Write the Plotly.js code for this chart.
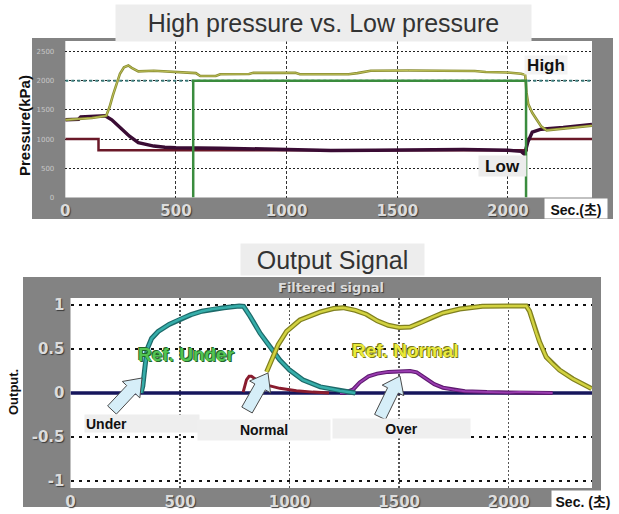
<!DOCTYPE html>
<html>
<head>
<meta charset="utf-8">
<script src="https://cdn.plot.ly/plotly-3.0.1.min.js"></script>
<style>html,body{margin:0;padding:0;background:#fff;}#chart{width:619px;height:514px;}</style>
</head>
<body>
<div id="chart"></div>
<script>
// ---------- DATA ----------
// Top chart: High pressure vs. Low pressure (x = seconds, y = kPa)
const tHigh = [0,60,120,185,200,215,232,247,265,285,300,330,400,470,540,590,610,680,700,830,850,1040,1060,1280,1320,1380,1550,1700,1850,1900,2000,2060,2078,2084,2092,2110,2130,2150,2175,2200,2300,2380];
const pHigh = [1330,1340,1360,1400,1550,1750,1950,2120,2230,2260,2220,2160,2170,2160,2150,2130,2080,2080,2110,2115,2135,2135,2110,2110,2130,2170,2175,2170,2165,2150,2140,2120,2100,1800,1600,1450,1330,1220,1150,1160,1190,1230];
const tLow = [0,60,70,180,210,250,290,330,370,400,450,500,700,900,1100,1200,1400,1600,1800,2000,2060,2075,2090,2110,2150,2250,2380];
const pLow = [1330,1340,1380,1400,1330,1180,1050,940,900,880,860,850,845,830,815,805,810,820,820,810,790,740,950,1120,1170,1200,1250];
const tLowSet = [0,150,150,2085,2085,2380];
const pLowSet = [1000,1000,810,810,1000,1000];
const tHighRef = [578,578,2082,2082];
const pHighRef = [0,2000,2000,0];
const tHighBase = [0,2380];
const pHighBase = [2000,2000];
const xTicksTop = [0,500,1000,1500,2000];
const yTicksTop = [0,500,1000,1500,2000,2500];

// Bottom chart: Output Signal (Filtered signal)
const tZero = [0,2380];
const yZero = [0,0];
const tUnder = [322,330,340,350,370,400,450,500,550,600,650,700,770,790,820,865,910,955,1000,1060,1140,1230,1300];
const yUnder = [0,0.08,0.3,0.5,0.62,0.7,0.78,0.84,0.89,0.93,0.955,0.97,0.99,0.985,0.87,0.68,0.53,0.375,0.26,0.15,0.07,0.025,0];
const tNormal = [895,910,925,948,986,1047,1138,1200,1244,1300,1350,1400,1450,1500,1550,1600,1650,1700,1776,1880,2000,2080,2095,2110,2126,2141,2171,2200,2232,2293,2340,2378];
const yNormal = [0.24,0.33,0.41,0.55,0.7,0.83,0.92,0.96,0.97,0.94,0.895,0.82,0.77,0.745,0.75,0.8,0.86,0.91,0.955,0.985,0.99,0.99,0.93,0.8,0.68,0.58,0.41,0.33,0.26,0.16,0.1,0.05];
const tOver = [1230,1250,1290,1320,1360,1400,1450,1500,1550,1580,1620,1660,1700,1750,1800,1900,2000,2050,2100,2150,2200];
const yOver = [0,0,0.04,0.12,0.19,0.22,0.24,0.245,0.25,0.235,0.17,0.1,0.06,0.035,0.02,0.01,0.005,0.012,0.01,0.005,0];
const tTrans = [788,803,815,826,860,897,955,1031,1107,1180];
const yTrans = [0.01,0.15,0.19,0.19,0.13,0.09,0.053,0.026,0.01,0];
const xTicksBot = [0,500,1000,1500,2000];
const yTicksBot = [-1,-0.5,0,0.5,1];
const yTickTextBot = ['-1','-0.5','0','0.5','1'];

// ---------- LAYOUT HELPERS ----------
const W = 619, H = 514;
const px = x => x / W;
const py = y => 1 - y / H;

function blockArrow(tx, ty, hx, hy) {
  const dx = hx - tx, dy = hy - ty, L = Math.hypot(dx, dy);
  const ux = dx / L, uy = dy / L, nx = -uy, ny = ux;
  const sw = 6, hw = 12, hl = 16;
  const bx = hx - ux * hl, by = hy - uy * hl;
  const pts = [
    [tx + nx * sw, ty + ny * sw], [bx + nx * sw, by + ny * sw], [bx + nx * hw, by + ny * hw],
    [hx, hy], [bx - nx * hw, by - ny * hw], [bx - nx * sw, by - ny * sw], [tx - nx * sw, ty - ny * sw]
  ];
  return 'M ' + pts.map(p => px(p[0]).toFixed(5) + ' ' + py(p[1]).toFixed(5)).join(' L ') + ' Z';
}

const tickFontBig = {family: 'DejaVu Sans', size: 15, weight: 'bold', color: '#dcdcdc', shadow: '1px 1px 1px #3c3c3c'};

const traces = [
  // top
  {x: tHighBase, y: pHighBase, xaxis: 'x', yaxis: 'y', mode: 'lines', line: {color: '#3b7c7c', width: 2, dash: 'dot'}},
  {x: tLowSet, y: pLowSet, xaxis: 'x', yaxis: 'y', mode: 'lines', line: {color: '#6a1828', width: 2.5}},
  {x: tLow, y: pLow, xaxis: 'x', yaxis: 'y', mode: 'lines', line: {color: '#3a0c34', width: 3.5}},
  {x: tHigh, y: pHigh, xaxis: 'x', yaxis: 'y', mode: 'lines', line: {color: '#8a8d34', width: 2.6}},
  {x: tHigh, y: pHigh, xaxis: 'x', yaxis: 'y', mode: 'lines', line: {color: '#bfc158', width: 1}},
  {x: tHighRef, y: pHighRef, xaxis: 'x', yaxis: 'y', mode: 'lines', line: {color: '#3a8c3e', width: 2.5}},
  // bottom
  {x: tZero, y: yZero, xaxis: 'x2', yaxis: 'y2', mode: 'lines', line: {color: '#16165c', width: 3.5}},
  {x: tOver, y: yOver, xaxis: 'x2', yaxis: 'y2', mode: 'lines', line: {color: '#5e1a70', width: 4}},
  {x: tOver, y: yOver, xaxis: 'x2', yaxis: 'y2', mode: 'lines', line: {color: '#9a3cb0', width: 1.8}},
  {x: tTrans, y: yTrans, xaxis: 'x2', yaxis: 'y2', mode: 'lines', line: {color: '#8a1c2e', width: 3}},
  {x: tUnder, y: yUnder, xaxis: 'x2', yaxis: 'y2', mode: 'lines', line: {color: '#1d6a6a', width: 5}},
  {x: tUnder, y: yUnder, xaxis: 'x2', yaxis: 'y2', mode: 'lines', line: {color: '#36aeaa', width: 2.5}},
  {x: tNormal, y: yNormal, xaxis: 'x2', yaxis: 'y2', mode: 'lines', line: {color: '#80801f', width: 5}},
  {x: tNormal, y: yNormal, xaxis: 'x2', yaxis: 'y2', mode: 'lines', line: {color: '#d2d240', width: 2.5}}
];

const layout = {
  width: W, height: H,
  margin: {l: 0, r: 0, t: 0, b: 0},
  paper_bgcolor: '#ffffff', plot_bgcolor: '#ffffff',
  showlegend: false, hovermode: false,
  xaxis: {
    domain: [px(65.3), px(592)], range: [0, 2380], anchor: 'y',
    tickvals: xTicksTop, ticks: '', showline: false, zeroline: false,
    showgrid: true, gridcolor: '#333', griddash: '3px,2px', gridwidth: 1,
    tickfont: tickFontBig, ticklabelstandoff: 2
  },
  yaxis: {
    domain: [py(197.5), py(41)], range: [0, 2680], anchor: 'x',
    tickvals: yTicksTop, ticks: '', showline: false, zeroline: false,
    showgrid: true, gridcolor: '#222', griddash: '2px,2px', gridwidth: 1,
    tickfont: {family: 'DejaVu Sans', size: 7, color: '#c8c8c8'}, ticklabelstandoff: 10
  },
  xaxis2: {
    domain: [px(70.5), px(592)], range: [0, 2380], anchor: 'y2',
    tickvals: xTicksBot, ticks: '', showline: false, zeroline: false,
    showgrid: true, gridcolor: '#555', griddash: '2px,2px', gridwidth: 1.5,
    tickfont: tickFontBig, ticklabelstandoff: 3
  },
  yaxis2: {
    domain: [py(488), py(298)], range: [-1.08, 1.08], anchor: 'x2',
    tickvals: yTicksBot, ticktext: yTickTextBot, ticks: '', showline: false, zeroline: false,
    showgrid: true, gridcolor: '#111', griddash: '3px,5px', gridwidth: 2,
    tickfont: tickFontBig, ticklabelstandoff: 5
  },
  shapes: [
    {type: 'rect', xref: 'paper', yref: 'paper', x0: px(32), x1: px(613), y0: py(219), y1: py(38), fillcolor: '#838383', line: {width: 0}, layer: 'below'},
    {type: 'rect', xref: 'paper', yref: 'paper', x0: px(23), x1: px(601), y0: py(507), y1: py(277), fillcolor: '#838383', line: {width: 0}, layer: 'below'},
    {type: 'rect', xref: 'x domain', yref: 'y domain', x0: 0, x1: 1, y0: 0, y1: 1, fillcolor: '#ffffff', line: {width: 0}, layer: 'below'},
    {type: 'rect', xref: 'x2 domain', yref: 'y2 domain', x0: 0, x1: 1, y0: 0, y1: 1, fillcolor: '#ffffff', line: {width: 0}, layer: 'below'},
    {type: 'path', xref: 'paper', yref: 'paper', path: blockArrow(112, 410, 142, 378), fillcolor: '#d6eef8', line: {color: '#4a4a4a', width: 1}, layer: 'above'},
    {type: 'path', xref: 'paper', yref: 'paper', path: blockArrow(247, 410, 268, 373), fillcolor: '#d6eef8', line: {color: '#4a4a4a', width: 1}, layer: 'above'},
    {type: 'path', xref: 'paper', yref: 'paper', path: blockArrow(380, 417, 400, 376), fillcolor: '#d6eef8', line: {color: '#4a4a4a', width: 1}, layer: 'above'}
  ],
  annotations: [
    {text: 'High pressure vs. Low pressure', xref: 'paper', yref: 'paper', x: px(323.5), y: py(23), xanchor: 'center', yanchor: 'middle', showarrow: false,
     font: {family: 'Liberation Sans, Arial, sans-serif', size: 25, color: '#333'}, bgcolor: '#ededed', width: 413, height: 34, borderpad: 1},
    {text: 'Output Signal', xref: 'paper', yref: 'paper', x: px(332.5), y: py(259.5), xanchor: 'center', yanchor: 'middle', showarrow: false,
     font: {family: 'Liberation Sans, Arial, sans-serif', size: 25, color: '#333'}, bgcolor: '#ededed', width: 181, height: 29, borderpad: 1},
    {text: 'Pressure(kPa)', xref: 'paper', yref: 'paper', x: px(24), y: py(126), xanchor: 'center', yanchor: 'middle', showarrow: false, textangle: -90,
     font: {family: 'Liberation Sans, Arial, sans-serif', size: 15, weight: 'bold', color: '#111'}},
    {text: 'Output.', xref: 'paper', yref: 'paper', x: px(13), y: py(392), xanchor: 'center', yanchor: 'middle', showarrow: false, textangle: -90,
     font: {family: 'Liberation Sans, Arial, sans-serif', size: 13, weight: 'bold', color: '#111'}},
    {text: 'Filtered signal', xref: 'paper', yref: 'paper', x: px(331), y: py(287), xanchor: 'center', yanchor: 'middle', showarrow: false,
     font: {family: 'DejaVu Sans', size: 13, weight: 'bold', color: '#dcdcdc', shadow: '1px 1px 1px #3c3c3c'}},
    {text: 'High', xref: 'paper', yref: 'paper', x: px(546), y: py(65), xanchor: 'center', yanchor: 'middle', showarrow: false,
     font: {family: 'Liberation Sans, Arial, sans-serif', size: 17, weight: 'bold', color: '#111'}, bgcolor: '#f3f3f3', width: 42, height: 18, borderpad: 0},
    {text: 'Low', xref: 'paper', yref: 'paper', x: px(502), y: py(166), xanchor: 'center', yanchor: 'middle', showarrow: false,
     font: {family: 'Liberation Sans, Arial, sans-serif', size: 17, weight: 'bold', color: '#111'}, bgcolor: '#ececec', width: 47, height: 20, borderpad: 0},
    {text: 'Sec.(<span style="font-family:\'Noto Sans CJK KR\'">초</span>)', xref: 'paper', yref: 'paper', x: px(576), y: py(208.5), xanchor: 'center', yanchor: 'middle', showarrow: false,
     font: {family: 'Liberation Sans, Arial, sans-serif', size: 14, weight: 'bold', color: '#111'}, bgcolor: '#ffffff', width: 62, height: 19, borderpad: 0},
    {text: 'Sec. (<span style="font-family:\'Noto Sans CJK KR\'">초</span>)', xref: 'paper', yref: 'paper', x: px(583), y: py(501), xanchor: 'center', yanchor: 'middle', showarrow: false,
     font: {family: 'Liberation Sans, Arial, sans-serif', size: 14, weight: 'bold', color: '#111'}, bgcolor: '#ffffff', width: 62, height: 20, borderpad: 0},
    {text: 'Ref. Under', xref: 'paper', yref: 'paper', x: px(186), y: py(354), xanchor: 'center', yanchor: 'middle', showarrow: false,
     font: {family: 'Liberation Sans, Arial, sans-serif', size: 19, weight: 'bold', color: '#52c452', shadow: '1px 1px 0 #23652a, -1px -1px 0 #23652a'}},
    {text: 'Ref. Normal', xref: 'paper', yref: 'paper', x: px(405), y: py(350), xanchor: 'center', yanchor: 'middle', showarrow: false,
     font: {family: 'Liberation Sans, Arial, sans-serif', size: 19, weight: 'bold', color: '#eaea3a', shadow: '1px 1px 0 #77771a, -1px -1px 0 #77771a'}},
    {text: 'Under', xref: 'paper', yref: 'paper', x: px(142), y: py(423.5), xanchor: 'center', yanchor: 'middle', showarrow: false, align: 'left',
     font: {family: 'Liberation Sans, Arial, sans-serif', size: 14, weight: 'bold', color: '#111'}, bgcolor: '#eeeeee', width: 112, height: 15, borderpad: 1},
    {text: 'Normal', xref: 'paper', yref: 'paper', x: px(264), y: py(430), xanchor: 'center', yanchor: 'middle', showarrow: false,
     font: {family: 'Liberation Sans, Arial, sans-serif', size: 14, weight: 'bold', color: '#111'}, bgcolor: '#efefef', width: 130, height: 18, borderpad: 1},
    {text: 'Over', xref: 'paper', yref: 'paper', x: px(401.5), y: py(428.5), xanchor: 'center', yanchor: 'middle', showarrow: false,
     font: {family: 'Liberation Sans, Arial, sans-serif', size: 14, weight: 'bold', color: '#111'}, bgcolor: '#efefef', width: 135, height: 17, borderpad: 1}
  ]
};

Plotly.newPlot('chart', traces, layout, {staticPlot: true, displayModeBar: false});
</script>
</body>
</html>
